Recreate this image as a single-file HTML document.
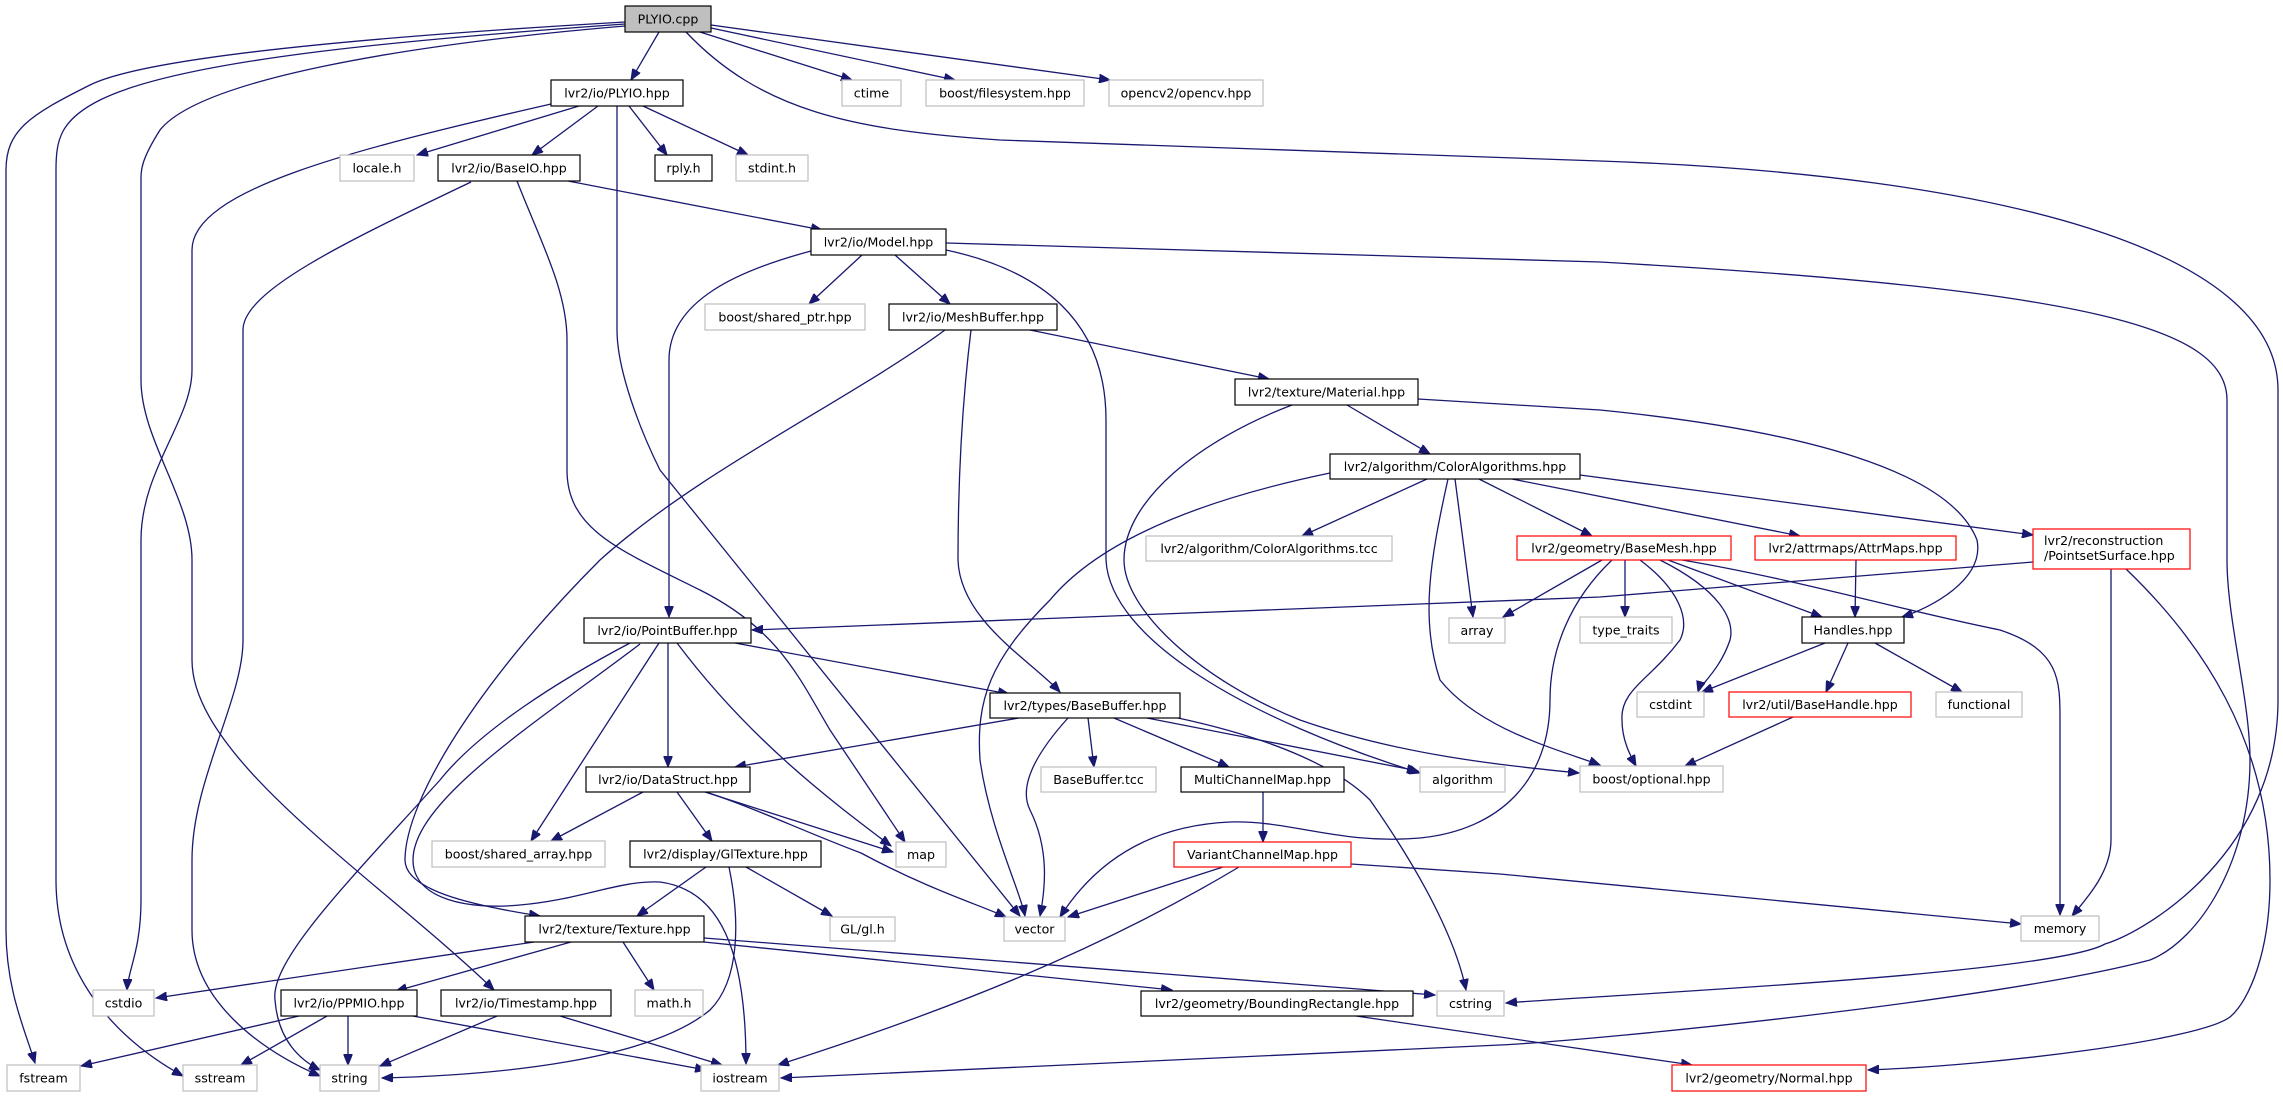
<!DOCTYPE html>
<html><head><meta charset="utf-8"><style>
html,body{margin:0;padding:0;background:#fff;width:2283px;height:1097px;overflow:hidden}
svg{display:block}
text{font-family:"DejaVu Sans","Liberation Sans",sans-serif;font-size:12.6px;fill:#000;text-anchor:middle}
.e{fill:none;stroke:#191970;stroke-width:1.3}
.b{fill:#fff;stroke:#000;stroke-width:1.2}
.g{fill:#fff;stroke:#bfbfbf;stroke-width:1.2}
.r{fill:#fff;stroke:#ff0000;stroke-width:1.2}
.p{fill:#bfbfbf;stroke:#000;stroke-width:1.2}
</style></head><body>
<svg width="2283" height="1097" viewBox="0 0 2283 1097" xmlns="http://www.w3.org/2000/svg">
<defs><marker id="a" markerUnits="userSpaceOnUse" markerWidth="12" markerHeight="9" refX="11" refY="4.5" orient="auto"><path d="M0,0 L11,4.5 L0,9 z" fill="#191970" stroke="#191970"/></marker></defs>
<g marker-end="url(#a)">
<!-- PLYIO.cpp -->
<path class="e" d="M659,32 L631,80"/>
<path class="e" d="M700,32 L852,80"/>
<path class="e" d="M711,28 L955,80"/>
<path class="e" d="M711,25 L1110,80"/>
<path class="e" d="M686,32 C760,110 850,130 1000,140 L1600,161 C2000,175 2278,250 2278,390 L2278,700 C2278,850 2150,930 2105,944 C2050,975 1600,995 1506,1003"/>
<path class="e" d="M625,22 C400,35 150,55 90,85 C30,115 6,130 6,170 L6,930 C6,990 25,1030 35,1063"/>
<path class="e" d="M625,24 C400,40 180,60 100,100 C60,120 56,140 56,170 L56,880 C56,960 100,1030 183,1076"/>
<path class="e" d="M625,26 C400,45 200,80 160,130 C141,160 141,170 141,180 L141,380 C141,440 192,500 192,560 L192,660 C192,760 380,880 494,990"/>
<!-- PLYIO.hpp -->
<path class="e" d="M579,106 L417,155"/>
<path class="e" d="M598,106 L532,155"/>
<path class="e" d="M629,106 L667,155"/>
<path class="e" d="M643,106 L748,155"/>
<path class="e" d="M551,104 C350,150 192,190 192,250 L192,370 C192,420 141,470 141,540 L141,900 C141,950 128,970 127,990"/>
<path class="e" d="M617,106 L617,330 C617,370 640,430 660,470 L1020,916"/>
<!-- BaseIO -->
<path class="e" d="M568,181 L822,230"/>
<path class="e" d="M471,182 C350,240 243,290 243,330 L243,640 C243,700 192,780 192,860 L192,930 C192,1000 260,1050 320,1076"/>
<path class="e" d="M517,181 C540,240 567,290 567,340 L567,470 C567,530 620,550 700,590 C780,630 800,680 830,730 L905,842"/>
<!-- Model -->
<path class="e" d="M862,255 L809,304"/>
<path class="e" d="M895,255 L950,304"/>
<path class="e" d="M811,251 C740,270 669,300 669,360 L669,617"/>
<path class="e" d="M946,250 C1040,270 1106,320 1106,420 L1106,560 C1110,640 1250,720 1420,773"/>
<path class="e" d="M946,243 L1600,262 C2100,290 2227,330 2227,400 L2227,560 C2227,620 2250,700 2250,760 C2250,860 2200,940 2150,960 C2000,1000 1600,1040 1500,1045 L781,1078"/>
<!-- MeshBuffer -->
<path class="e" d="M1030,330 L1269,379"/>
<path class="e" d="M945,330 C850,400 700,470 600,560 C480,680 405,800 405,860 C405,890 470,905 540,916"/>
<path class="e" d="M971,330 C960,420 958,500 958,560 C960,620 1030,660 1060,692"/>
<!-- Material -->
<path class="e" d="M1347,405 L1430,454"/>
<path class="e" d="M1418,399 L1600,410 C1800,430 1950,470 1977,540 C1985,580 1930,608 1902,617"/>
<path class="e" d="M1292,405 C1200,440 1124,500 1124,560 C1124,610 1200,680 1300,720 C1400,755 1500,765 1579,773"/>
<!-- ColorAlgorithms -->
<path class="e" d="M1448,479 C1430,560 1420,620 1440,680 C1480,730 1560,750 1600,765"/>
<path class="e" d="M1455,479 L1473,617"/>
<path class="e" d="M1330,473 C1200,500 1100,540 1050,600 C990,660 976,700 980,760 C990,830 1020,890 1025,916"/>
<path class="e" d="M1427,479 L1302,536"/>
<path class="e" d="M1479,479 L1592,536"/>
<path class="e" d="M1512,479 L1800,536"/>
<path class="e" d="M1580,475 L2033,535"/>
<!-- BaseMesh -->
<path class="e" d="M1602,560 L1503,617"/>
<path class="e" d="M1625,560 L1625,617"/>
<path class="e" d="M1668,560 L1822,617"/>
<path class="e" d="M1660,560 C1720,590 1735,620 1730,640 C1720,670 1700,685 1698,692"/>
<path class="e" d="M1640,560 C1680,590 1690,620 1680,640 C1650,680 1620,690 1622,720 C1622,740 1630,755 1636,766"/>
<path class="e" d="M1682,560 C1800,580 1900,610 2000,630 C2060,650 2060,680 2060,720 L2060,915"/>
<path class="e" d="M1612,560 C1570,600 1550,650 1550,700 C1550,780 1500,830 1420,838 C1340,845 1290,820 1230,822 C1140,826 1090,870 1060,917"/>
<!-- AttrMaps / PointsetSurface / Handles -->
<path class="e" d="M1856,560 L1855,617"/>
<path class="e" d="M2111,569 L2111,840 C2111,870 2090,895 2072,916"/>
<path class="e" d="M2126,569 C2200,640 2270,740 2270,880 C2270,950 2250,1000 2230,1017 C2200,1040 2000,1065 1868,1070"/>
<path class="e" d="M2033,562 L1600,597 L752,630"/>
<path class="e" d="M1825,643 L1702,692"/>
<path class="e" d="M1848,643 L1826,692"/>
<path class="e" d="M1875,643 L1962,692"/>
<path class="e" d="M1793,717 L1685,766"/>
<!-- PointBuffer -->
<path class="e" d="M659,643 L531,841"/>
<path class="e" d="M668,643 L668,767"/>
<path class="e" d="M677,643 C750,740 830,800 891,846"/>
<path class="e" d="M735,643 L1009,694"/>
<path class="e" d="M630,643 C560,680 480,730 440,780 C350,880 270,960 275,1000 C278,1040 300,1060 320,1070"/>
<path class="e" d="M640,644 C540,720 413,800 413,860 C413,900 470,910 520,905 C580,900 620,880 660,882 C720,890 746,950 746,1064"/>
<!-- DataStruct -->
<path class="e" d="M643,792 L551,841"/>
<path class="e" d="M677,792 L712,841"/>
<path class="e" d="M705,792 L893,852"/>
<path class="e" d="M706,792 C760,810 800,830 861,853 C930,890 980,905 1006,917"/>
<!-- BaseBuffer -->
<path class="e" d="M1019,718 L735,767"/>
<path class="e" d="M1068,718 C1030,760 1020,790 1030,810 C1050,850 1045,890 1040,916"/>
<path class="e" d="M1088,718 L1094,767"/>
<path class="e" d="M1114,718 L1229,767"/>
<path class="e" d="M1147,718 L1418,771"/>
<path class="e" d="M1178,718 C1280,740 1340,770 1370,800 C1440,900 1460,960 1466,990"/>
<!-- MultiChannelMap / VariantChannelMap -->
<path class="e" d="M1263,792 L1263,842"/>
<path class="e" d="M1223,867 L1068,917"/>
<path class="e" d="M1239,867 C1100,950 950,1010 778,1065"/>
<path class="e" d="M1351,864 L1500,874 L2021,924"/>
<!-- GlTexture -->
<path class="e" d="M706,867 L637,916"/>
<path class="e" d="M746,867 L832,916"/>
<path class="e" d="M729,867 C740,920 740,980 710,1010 C650,1060 500,1075 382,1078"/>
<!-- Texture -->
<path class="e" d="M534,942 L156,998"/>
<path class="e" d="M571,942 L396,991"/>
<path class="e" d="M623,942 L654,990"/>
<path class="e" d="M704,938 L1435,995"/>
<path class="e" d="M704,942 L1172,990"/>
<!-- PPMIO / Timestamp / BoundingRect -->
<path class="e" d="M299,1016 L81,1066"/>
<path class="e" d="M327,1016 L241,1065"/>
<path class="e" d="M348,1016 L348,1065"/>
<path class="e" d="M413,1016 L706,1070"/>
<path class="e" d="M497,1016 L380,1066"/>
<path class="e" d="M560,1016 L722,1065"/>
<path class="e" d="M1356,1016 L1692,1065"/>
</g>
<!-- nodes -->
<rect class="p" x="625" y="6" width="86" height="26"/><text x="668" y="23.5">PLYIO.cpp</text>
<rect class="b" x="551" y="80" width="132" height="26"/><text x="617" y="97.5">lvr2/io/PLYIO.hpp</text>
<rect class="g" x="842" y="80" width="59" height="26"/><text x="871.5" y="97.5">ctime</text>
<rect class="g" x="926" y="80" width="158" height="26"/><text x="1005" y="97.5">boost/filesystem.hpp</text>
<rect class="g" x="1109" y="80" width="154" height="26"/><text x="1186" y="97.5">opencv2/opencv.hpp</text>
<rect class="g" x="340" y="155" width="74" height="26"/><text x="377" y="172.5">locale.h</text>
<rect class="b" x="438" y="155" width="142" height="26"/><text x="509" y="172.5">lvr2/io/BaseIO.hpp</text>
<rect class="b" x="655" y="155" width="57" height="26"/><text x="683.5" y="172.5">rply.h</text>
<rect class="g" x="736" y="155" width="72" height="26"/><text x="772" y="172.5">stdint.h</text>
<rect class="b" x="811" y="229" width="135" height="26"/><text x="878.5" y="246.5">lvr2/io/Model.hpp</text>
<rect class="g" x="705" y="304" width="160" height="26"/><text x="785" y="321.5">boost/shared_ptr.hpp</text>
<rect class="b" x="889" y="304" width="168" height="26"/><text x="973" y="321.5">lvr2/io/MeshBuffer.hpp</text>
<rect class="b" x="1235" y="379" width="183" height="26"/><text x="1326.5" y="396.5">lvr2/texture/Material.hpp</text>
<rect class="b" x="1330" y="454" width="250" height="25"/><text x="1455" y="471">lvr2/algorithm/ColorAlgorithms.hpp</text>
<rect class="g" x="1146" y="536" width="246" height="25"/><text x="1269" y="553">lvr2/algorithm/ColorAlgorithms.tcc</text>
<rect class="r" x="1517" y="536" width="214" height="24"/><text x="1624" y="552.5">lvr2/geometry/BaseMesh.hpp</text>
<rect class="r" x="1755" y="536" width="201" height="24"/><text x="1855.5" y="552.5">lvr2/attrmaps/AttrMaps.hpp</text>
<rect class="r" x="2033" y="529" width="157" height="40"/><text x="2044" y="545" style="text-anchor:start">lvr2/reconstruction</text><text x="2044" y="560" style="text-anchor:start">/PointsetSurface.hpp</text>
<rect class="b" x="584" y="618" width="167" height="25"/><text x="667.5" y="635">lvr2/io/PointBuffer.hpp</text>
<rect class="g" x="1449" y="618" width="56" height="25"/><text x="1477" y="635">array</text>
<rect class="g" x="1580" y="617" width="92" height="26"/><text x="1626" y="634.5">type_traits</text>
<rect class="b" x="1802" y="617" width="102" height="26"/><text x="1853" y="634.5">Handles.hpp</text>
<rect class="b" x="990" y="693" width="190" height="25"/><text x="1085" y="710">lvr2/types/BaseBuffer.hpp</text>
<rect class="g" x="1637" y="692" width="67" height="25"/><text x="1670.5" y="709">cstdint</text>
<rect class="r" x="1729" y="692" width="182" height="25"/><text x="1820" y="709">lvr2/util/BaseHandle.hpp</text>
<rect class="g" x="1936" y="692" width="86" height="25"/><text x="1979" y="709">functional</text>
<rect class="b" x="586" y="767" width="164" height="25"/><text x="668" y="784">lvr2/io/DataStruct.hpp</text>
<rect class="g" x="1041" y="767" width="115" height="25"/><text x="1098.5" y="784">BaseBuffer.tcc</text>
<rect class="b" x="1181" y="767" width="163" height="25"/><text x="1262.5" y="784">MultiChannelMap.hpp</text>
<rect class="g" x="1420" y="767" width="85" height="25"/><text x="1462.5" y="784">algorithm</text>
<rect class="g" x="1580" y="766" width="143" height="26"/><text x="1651.5" y="783.5">boost/optional.hpp</text>
<rect class="g" x="432" y="841" width="173" height="26"/><text x="518.5" y="858.5">boost/shared_array.hpp</text>
<rect class="b" x="630" y="841" width="191" height="26"/><text x="725.5" y="858.5">lvr2/display/GlTexture.hpp</text>
<rect class="g" x="896" y="842" width="50" height="25"/><text x="921" y="859">map</text>
<rect class="r" x="1174" y="842" width="177" height="25"/><text x="1262.5" y="859">VariantChannelMap.hpp</text>
<rect class="b" x="525" y="916" width="179" height="26"/><text x="614.5" y="933.5">lvr2/texture/Texture.hpp</text>
<rect class="g" x="830" y="917" width="65" height="24"/><text x="862.5" y="933.5">GL/gl.h</text>
<rect class="g" x="1004" y="917" width="61" height="24"/><text x="1034.5" y="933.5">vector</text>
<rect class="g" x="2021" y="916" width="78" height="25"/><text x="2060" y="933">memory</text>
<rect class="g" x="93" y="990" width="61" height="26"/><text x="123.5" y="1007.5">cstdio</text>
<rect class="b" x="281" y="990" width="136" height="26"/><text x="349" y="1007.5">lvr2/io/PPMIO.hpp</text>
<rect class="b" x="441" y="990" width="170" height="26"/><text x="526" y="1007.5">lvr2/io/Timestamp.hpp</text>
<rect class="g" x="635" y="990" width="68" height="26"/><text x="669" y="1007.5">math.h</text>
<rect class="b" x="1141" y="991" width="272" height="25"/><text x="1277" y="1008">lvr2/geometry/BoundingRectangle.hpp</text>
<rect class="g" x="1437" y="991" width="67" height="25"/><text x="1470.5" y="1008">cstring</text>
<rect class="g" x="7" y="1065" width="73" height="26"/><text x="43.5" y="1082.5">fstream</text>
<rect class="g" x="183" y="1065" width="74" height="26"/><text x="220" y="1082.5">sstream</text>
<rect class="g" x="320" y="1065" width="59" height="26"/><text x="349.5" y="1082.5">string</text>
<rect class="g" x="701" y="1065" width="78" height="26"/><text x="740" y="1082.5">iostream</text>
<rect class="r" x="1672" y="1065" width="194" height="26"/><text x="1769" y="1082.5">lvr2/geometry/Normal.hpp</text>
</svg>
</body></html>
